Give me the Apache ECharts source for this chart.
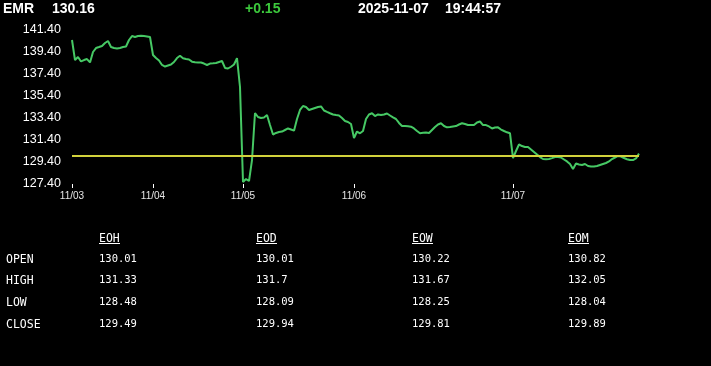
<!DOCTYPE html>
<html>
<head>
<meta charset="utf-8">
<script src="https://cdn.jsdelivr.net/npm/echarts@6/dist/echarts.min.js"></script>
<style>
html,body{margin:0;padding:0;background:#000;}
#chart{width:711px;height:366px;}
</style>
</head>
<body>
<div id="chart"></div>
<script>
// ---- header ----
var symbol = 'EMR';
var lastPrice = '130.16';
var change = '+0.15';
var quoteDate = '2025-11-07';
var quoteTime = '19:44:57';

// ---- reference line (previous close) ----
var prevClose = 130.01;

// ---- x axis day labels (category index -> label) ----
var dayTickIndex = [0, 27, 57, 94, 147];
var dayTickLabels = ['11/03', '11/04', '11/05', '11/06', '11/07'];

// ---- y axis ----
var yMin = 127.4, yMax = 141.4, yStep = 2;

// ---- price series (intraday, 11/03 .. 11/07) ----
var prices = [
140.49,138.67,138.95,138.54,138.67,138.76,138.45,139.40,139.76,139.85,
139.95,140.22,140.40,139.85,139.76,139.72,139.76,139.85,139.90,140.49,
140.85,140.76,140.85,140.88,140.85,140.81,140.76,139.13,138.85,138.63,
138.22,138.08,138.17,138.26,138.49,138.85,139.06,138.83,138.76,138.72,
138.52,138.46,138.45,138.45,138.35,138.22,138.35,138.37,138.40,138.49,
138.58,137.95,137.90,138.06,138.26,138.85,136.22,127.58,127.85,127.67,
129.58,133.85,133.49,133.40,133.45,133.67,132.76,131.90,132.04,132.13,
132.17,132.31,132.45,132.35,132.25,133.31,134.13,134.49,134.40,134.13,
134.22,134.31,134.40,134.45,134.08,133.95,133.83,133.72,133.67,133.63,
133.40,133.13,133.04,132.85,131.58,132.17,132.01,132.22,133.31,133.72,
133.83,133.58,133.72,133.67,133.72,133.81,133.63,133.45,133.31,132.95,
132.67,132.67,132.65,132.61,132.45,132.22,132.01,132.05,132.08,132.04,
132.31,132.58,132.81,132.92,132.67,132.55,132.58,132.63,132.67,132.81,
132.92,132.85,132.76,132.76,132.76,132.99,133.08,132.76,132.76,132.63,
132.45,132.54,132.55,132.35,132.22,132.10,132.01,129.76,130.40,130.99,
130.85,130.76,130.76,130.54,130.31,130.08,129.85,129.67,129.65,129.67,
129.75,129.85,129.85,129.81,129.63,129.45,129.22,128.76,129.26,129.17,
129.13,129.22,129.04,128.99,128.99,129.04,129.13,129.22,129.31,129.45,
129.67,129.81,129.95,129.90,129.76,129.65,129.58,129.58,129.72,130.16
];

// ---- summary table ----
var tableCols = ['EOH', 'EOD', 'EOW', 'EOM'];
var rowLabels = ['OPEN', 'HIGH', 'LOW', 'CLOSE'];
var openVals  = ['130.01', '130.01', '130.22', '130.82'];
var highVals  = ['131.33', '131.7', '131.67', '132.05'];
var lowVals   = ['128.48', '128.09', '128.25', '128.04'];
var closeVals = ['129.49', '129.94', '129.81', '129.89'];

// ---- build ----
var categories = prices.map(function (_, i) { return String(i); });
var labelMap = {};
dayTickIndex.forEach(function (idx, k) { labelMap[idx] = dayTickLabels[k]; });
function isDayTick(index) { return labelMap.hasOwnProperty(index); }

var headFont = 'bold 14px "Liberation Sans", Arial, sans-serif';
var graphics = [
  { type: 'text', left: 3, top: 2, style: { text: symbol, font: headFont, fill: '#ffffff' } },
  { type: 'text', left: 52, top: 2, style: { text: lastPrice, font: headFont, fill: '#ffffff' } },
  { type: 'text', left: 245, top: 2, style: { text: change, font: headFont, fill: '#3cc83c' } },
  { type: 'text', left: 358, top: 2, style: { text: quoteDate, font: headFont, fill: '#ffffff' } },
  { type: 'text', left: 445, top: 2, style: { text: quoteTime, font: headFont, fill: '#ffffff' } }
];

var colX = [99, 256, 412, 568];
var rowY = [260, 281.5, 303, 325];
var labelFont = '11.5px "DejaVu Sans Mono", monospace';
var valueFont = '10.5px "DejaVu Sans Mono", monospace';
var rows = [openVals, highVals, lowVals, closeVals];

tableCols.forEach(function (c, k) {
  graphics.push({ type: 'text', x: colX[k], y: 239, style: { text: c, font: labelFont, fill: '#ffffff', verticalAlign: 'middle' } });
  graphics.push({ type: 'line', shape: { x1: colX[k], y1: 243.5, x2: colX[k] + 21, y2: 243.5 }, style: { stroke: '#ffffff', lineWidth: 1 } });
});
rowLabels.forEach(function (r, j) {
  graphics.push({ type: 'text', x: 6, y: rowY[j], style: { text: r, font: labelFont, fill: '#ffffff', verticalAlign: 'middle' } });
  rows[j].forEach(function (v, k) {
    graphics.push({ type: 'text', x: colX[k], y: rowY[j] - 1, style: { text: v, font: valueFont, fill: '#ffffff', verticalAlign: 'middle' } });
  });
});

var chart = echarts.init(document.getElementById('chart'), null, { renderer: 'canvas' });
chart.setOption({
  backgroundColor: '#000000',
  animation: false,
  grid: { left: 72, right: 72, top: 30, bottom: 182, containLabel: false },
  xAxis: {
    type: 'category',
    data: categories,
    boundaryGap: false,
    axisLine: { show: false },
    axisTick: { show: true, length: 4, interval: function (i) { return isDayTick(i); }, lineStyle: { color: '#ffffff', width: 1 } },
    axisLabel: {
      interval: function (i) { return isDayTick(i); },
      formatter: function (v, i) { return labelMap[i] || ''; },
      color: '#e6e6e6', fontSize: 10, fontFamily: '"Liberation Sans", Arial, sans-serif', margin: 7
    },
    splitLine: { show: false }
  },
  yAxis: {
    type: 'value',
    min: yMin, max: yMax, interval: yStep,
    axisLine: { show: false },
    axisTick: { show: false },
    splitLine: { show: false },
    axisLabel: {
      color: '#ffffff', fontSize: 12.5, fontFamily: '"Liberation Sans", Arial, sans-serif', margin: 11,
      formatter: function (v) { return v.toFixed(2); }
    }
  },
  series: [{
    type: 'line',
    data: prices,
    showSymbol: false,
    symbol: 'none',
    smooth: false,
    lineStyle: { color: '#46c864', width: 2 },
    markLine: {
      silent: true,
      symbol: 'none',
      label: { show: false },
      lineStyle: { color: '#d2d23c', width: 2, type: 'solid' },
      data: [{ yAxis: prevClose }]
    }
  }],
  graphic: graphics
});
</script>
</body>
</html>
